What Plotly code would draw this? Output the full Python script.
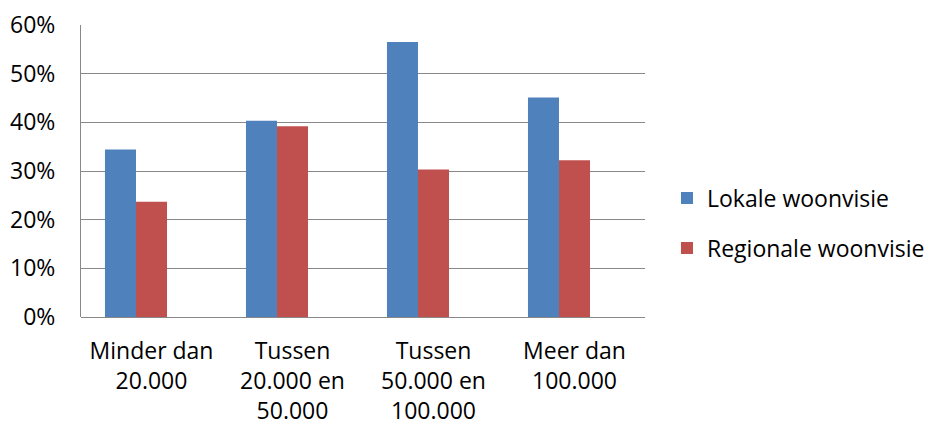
import plotly.graph_objects as go

categories = ["Minder dan<br>20.000", "Tussen<br>20.000 en<br>50.000",
              "Tussen<br>50.000 en<br>100.000", "Meer dan<br>100.000"]
lokale = [0.344, 0.403, 0.565, 0.451]
regionale = [0.237, 0.392, 0.303, 0.322]
series_names = ["Lokale woonvisie", "Regionale woonvisie"]
tick_vals = [0, 0.1, 0.2, 0.3, 0.4, 0.5, 0.6]
tick_text = ["0%", "10%", "20%", "30%", "40%", "50%", "60%"]

FONT = "Open Sans"
fig = go.Figure()
fig.add_trace(go.Bar(x=categories, y=lokale, name=series_names[0],
                     marker=dict(color="#4F81BD", line=dict(width=0)),
                     width=0.22, offset=-0.33, legend="legend", showlegend=True))
fig.add_trace(go.Bar(x=categories, y=regionale, name=series_names[1],
                     marker=dict(color="#C0504D", line=dict(width=0)),
                     width=0.22, offset=-0.11, legend="legend2", showlegend=True))

fig.update_layout(
    width=924, height=420,
    margin=dict(l=73, r=287, t=17, b=111, autoexpand=False),
    paper_bgcolor="white", plot_bgcolor="white",
    font=dict(family=FONT, size=23, color="black"),
    barmode="overlay",
    legend=dict(x=1.039, xanchor="left", y=0.4075, yanchor="middle",
                xref="paper", yref="paper", font=dict(size=23),
                bgcolor="rgba(0,0,0,0)", itemclick=False),
    legend2=dict(x=1.039, xanchor="left", y=0.236, yanchor="middle",
                 xref="paper", yref="paper", font=dict(size=23),
                 bgcolor="rgba(0,0,0,0)", itemclick=False),
)
fig.update_xaxes(showgrid=False, showline=False, ticks="", automargin=False,
                 tickfont=dict(size=23), ticklabelstandoff=18,
                 range=[-0.5, 3.5])
fig.update_yaxes(range=[0, 0.6], tickvals=tick_vals, ticktext=tick_text,
                 showgrid=True, gridcolor="#888888", gridwidth=1, automargin=False,
                 showline=True, linecolor="#888888", linewidth=1,
                 zeroline=True, zerolinecolor="#888888", zerolinewidth=1,
                 ticks="", tickfont=dict(size=23), ticklabelstandoff=20)

fig.write_html("out.html")
